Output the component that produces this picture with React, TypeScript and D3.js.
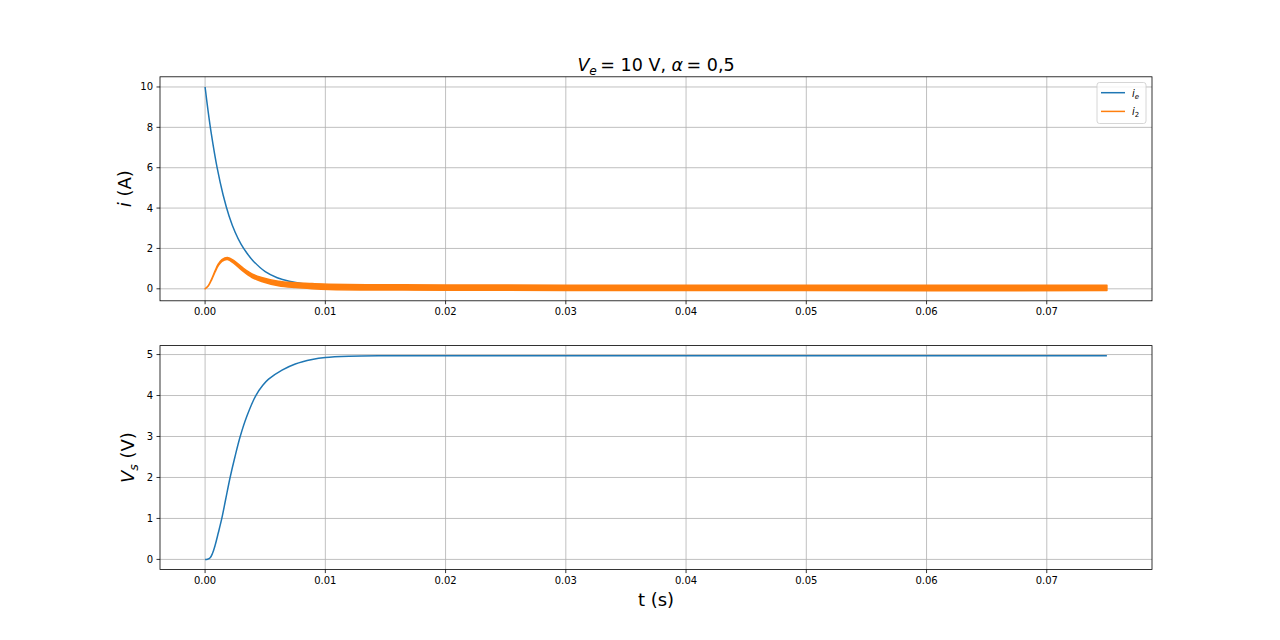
import React from "react";
import * as d3 from "d3";

// ---- data ----
const tIe = [0, 0.00025, 0.0005, 0.001, 0.0015, 0.002, 0.0025, 0.003, 0.0035, 0.004, 0.005, 0.006, 0.007, 0.008, 0.009, 0.01, 0.012, 0.015, 0.02, 0.03, 0.075];
const ie = [10, 8.8, 7.75, 6.0, 4.65, 3.6, 2.8, 2.2, 1.75, 1.38, 0.85, 0.55, 0.37, 0.26, 0.19, 0.15, 0.1, 0.07, 0.06, 0.05, 0.05];

const tI2 = [0, 0.00028, 0.00056, 0.00083, 0.0011, 0.0014, 0.00186, 0.0024, 0.0031, 0.0039, 0.0047, 0.0061, 0.0075, 0.0089, 0.0103, 0.015, 0.02, 0.03, 0.05, 0.075];
const i2Upper = [0, 0.17, 0.51, 0.89, 1.23, 1.45, 1.55, 1.40, 1.06, 0.74, 0.56, 0.37, 0.30, 0.26, 0.23, 0.2, 0.19, 0.18, 0.18, 0.18];
const i2Lower = [0, 0.15, 0.47, 0.83, 1.15, 1.36, 1.45, 1.26, 0.90, 0.56, 0.36, 0.15, 0.06, 0.005, -0.03, -0.06, -0.07, -0.08, -0.09, -0.09];

const tVs = [0, 0.0002, 0.00042, 0.00062, 0.00083, 0.0011, 0.00139, 0.0017, 0.00208, 0.00248, 0.00292, 0.00348, 0.00422, 0.0048, 0.00528, 0.0064, 0.0075, 0.0089, 0.01, 0.012, 0.015, 0.02, 0.03, 0.075];
const vs = [0, 0.005, 0.04, 0.15, 0.34, 0.65, 1.0, 1.45, 2.0, 2.5, 3.0, 3.5, 4.0, 4.25, 4.4, 4.62, 4.77, 4.88, 4.93, 4.96, 4.97, 4.97, 4.97, 4.97];

const xTicks = [0, 0.01, 0.02, 0.03, 0.04, 0.05, 0.06, 0.07];
const yTicksTop = [0, 2, 4, 6, 8, 10];
const yTicksBottom = [0, 1, 2, 3, 4, 5];

const W = 1280, H = 640;
const L = 160, R = 1152;
const top1 = 76.8, bot1 = 300.8;
const top2 = 345.6, bot2 = 569.6;
const BLUE = "#1f77b4", ORANGE = "#ff7f0e";
const FONT = "DejaVu Sans";

function pad(lo: number, hi: number): [number, number] {
  const r = hi - lo;
  return [lo - 0.05 * r, hi + 0.05 * r];
}

export default function App() {
  const tMax = d3.max([...tIe, ...tI2, ...tVs]) as number;
  const x = d3.scaleLinear().domain(pad(0, tMax)).range([L, R]);
  const yTopDom = pad(
    d3.min([...ie, ...i2Lower]) as number,
    d3.max([...ie, ...i2Upper]) as number
  );
  const y1 = d3.scaleLinear().domain(yTopDom).range([bot1, top1]);
  const y2 = d3.scaleLinear().domain(pad(d3.min(vs) as number, d3.max(vs) as number)).range([bot2, top2]);

  const curve = d3.curveCatmullRom.alpha(0.5);
  const lineIe = d3.line<number>().x((_, i) => x(tIe[i])).y((d) => y1(d)).curve(curve)(ie) || "";
  const areaI2 = d3
    .area<number>()
    .x((_, i) => x(tI2[i]))
    .y0((_, i) => y1(i2Lower[i]))
    .y1((d) => y1(d))
    .curve(curve)(i2Upper) || "";
  const lineVs = d3.line<number>().x((_, i) => x(tVs[i])).y((d) => y2(d)).curve(curve)(vs) || "";

  const grid = "#b0b0b0";

  const axes = (top: number, bot: number, y: d3.ScaleLinear<number, number>, yt: number[], key: string) => (
    <g key={key}>
      {xTicks.map((t) => (
        <line key={"gx" + t} x1={x(t)} x2={x(t)} y1={top} y2={bot} stroke={grid} strokeWidth={0.8} />
      ))}
      {yt.map((t) => (
        <line key={"gy" + t} x1={L} x2={R} y1={y(t)} y2={y(t)} stroke={grid} strokeWidth={0.8} />
      ))}
    </g>
  );

  const frame = (top: number, bot: number, y: d3.ScaleLinear<number, number>, yt: number[], key: string) => (
    <g key={key}>
      <rect x={L} y={top} width={R - L} height={bot - top} fill="none" stroke="#000" strokeWidth={0.8} />
      {xTicks.map((t) => (
        <g key={"tx" + t}>
          <line x1={x(t)} x2={x(t)} y1={bot} y2={bot + 3.5} stroke="#000" strokeWidth={0.8} />
          <text x={x(t)} y={bot + 7} dy="0.76em" textAnchor="middle" fontSize={10} fontFamily={FONT}>
            {d3.format(".2f")(t)}
          </text>
        </g>
      ))}
      {yt.map((t) => (
        <g key={"ty" + t}>
          <line x1={L - 3.5} x2={L} y1={y(t)} y2={y(t)} stroke="#000" strokeWidth={0.8} />
          <text x={L - 7} y={y(t)} dy="0.35em" textAnchor="end" fontSize={10} fontFamily={FONT}>
            {t}
          </text>
        </g>
      ))}
    </g>
  );

  return (
    <svg width={W} height={H} style={{ position: "absolute", left: 0, top: 0, background: "#fff" }} fontFamily={FONT}>
      <rect x={0} y={0} width={W} height={H} fill="#fff" />
      {/* top axes */}
      {axes(top1, bot1, y1, yTicksTop, "a1")}
      <defs>
        <clipPath id="c1"><rect x={L} y={top1} width={R - L} height={bot1 - top1} /></clipPath>
        <clipPath id="c2"><rect x={L} y={top2} width={R - L} height={bot2 - top2} /></clipPath>
      </defs>
      <g clipPath="url(#c1)">
        <path d={lineIe} fill="none" stroke={BLUE} strokeWidth={1.5} />
        <path d={areaI2} fill={ORANGE} stroke={ORANGE} strokeWidth={1.5} strokeLinejoin="round" />
      </g>
      {frame(top1, bot1, y1, yTicksTop, "f1")}

      {/* legend */}
      <g>
        <rect x={1097} y={82.5} width={49} height={41} rx={2.5} fill="#fff" fillOpacity={0.8} stroke="#cccccc" strokeWidth={0.8} />
        <line x1={1101} x2={1125} y1={92.7} y2={92.7} stroke={BLUE} strokeWidth={1.5} />
        <text x={1132} y={96.5} fontSize={10} fontFamily={FONT}>
          <tspan fontStyle="italic">i</tspan>
          <tspan fontStyle="italic" fontSize={7} dy={2}>e</tspan>
        </text>
        <line x1={1101} x2={1125} y1={111.4} y2={111.4} stroke={ORANGE} strokeWidth={1.5} />
        <text x={1132} y={115.2} fontSize={10} fontFamily={FONT}>
          <tspan fontStyle="italic">i</tspan>
          <tspan fontSize={7} dy={2}>2</tspan>
        </text>
      </g>

      {/* bottom axes */}
      {axes(top2, bot2, y2, yTicksBottom, "a2")}
      <g clipPath="url(#c2)">
        <path d={lineVs} fill="none" stroke={BLUE} strokeWidth={1.5} />
      </g>
      {frame(top2, bot2, y2, yTicksBottom, "f2")}

      {/* title */}
      <text x={(L + R) / 2} y={71} textAnchor="middle" fontSize={17.5} fontFamily={FONT}>
        <tspan fontStyle="italic">V</tspan>
        <tspan fontStyle="italic" fontSize={12.2} dy={3.5}>e</tspan>
        <tspan dy={-3.5}>{"\u2009= 10 V,  "}</tspan>
        <tspan fontStyle="italic">α</tspan>
        <tspan>{"\u2009= 0,5"}</tspan>
      </text>

      {/* y labels */}
      <text transform={`translate(131,${(top1 + bot1) / 2}) rotate(-90)`} textAnchor="middle" fontSize={18} fontFamily={FONT}>
        <tspan fontStyle="italic">i</tspan>
        <tspan>{" (A)"}</tspan>
      </text>
      <text transform={`translate(134,${(top2 + bot2) / 2}) rotate(-90)`} textAnchor="middle" fontSize={18} fontFamily={FONT}>
        <tspan fontStyle="italic">V</tspan>
        <tspan fontStyle="italic" fontSize={12.6} dy={3.5}>s</tspan>
        <tspan dy={-3.5}>{" (V)"}</tspan>
      </text>

      {/* x label */}
      <text x={(L + R) / 2} y={606} textAnchor="middle" fontSize={18} fontFamily={FONT}>
        t (s)
      </text>
    </svg>
  );
}
